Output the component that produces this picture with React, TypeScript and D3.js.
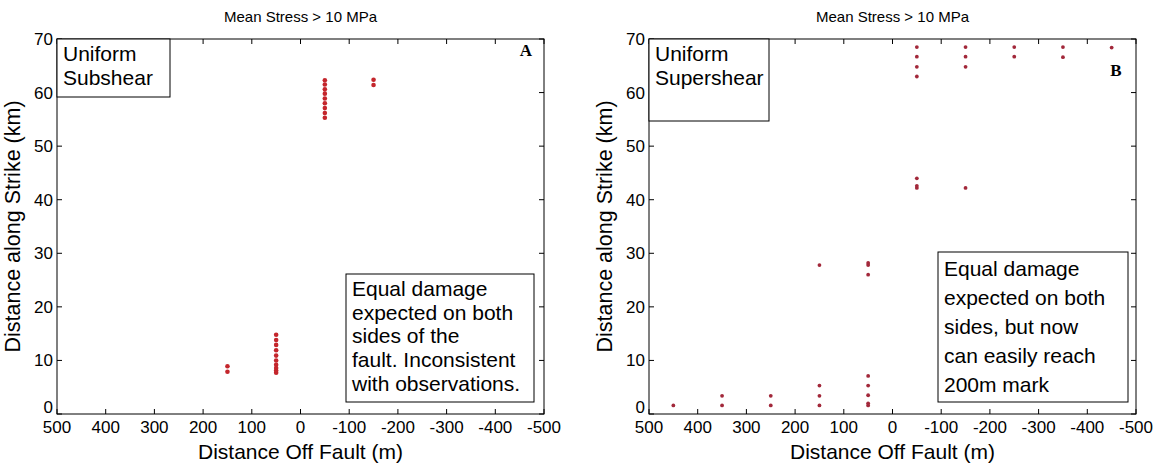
import React from "react";
import * as d3 from "d3";

const W = 1158;
const H = 467;

const titleText = "Mean Stress > 10 MPa";
const xLabelText = "Distance Off Fault (m)";
const yLabelText = "Distance along Strike (km)";

const xTicks = [500, 400, 300, 200, 100, 0, -100, -200, -300, -400, -500];
const yTicks = [0, 10, 20, 30, 40, 50, 60, 70];

// Panel A: Uniform Subshear  [distance off fault (m), distance along strike (km)]
const subshearPoints: [number, number][] = [
  [150, 7.9], [150, 8.9],
  [50, 7.7], [50, 8.1], [50, 8.6], [50, 9.2], [50, 10.0], [50, 10.9], [50, 11.9], [50, 12.9], [50, 13.8], [50, 14.8],
  [-50, 55.3], [-50, 56.2], [-50, 57.1], [-50, 58.0], [-50, 58.9], [-50, 59.8], [-50, 60.6], [-50, 61.5], [-50, 62.3],
  [-150, 61.4], [-150, 62.4],
];

// Panel B: Uniform Supershear
const supershearPoints: [number, number][] = [
  [450, 1.6],
  [350, 1.6], [350, 3.4],
  [250, 1.6], [250, 3.4],
  [150, 1.6], [150, 3.4], [150, 5.3], [150, 27.8],
  [50, 1.6], [50, 2.0], [50, 3.5], [50, 5.3], [50, 7.1], [50, 26.0], [50, 27.8], [50, 28.2],
  [-50, 42.2], [-50, 42.6], [-50, 44.0], [-50, 63.0], [-50, 64.8], [-50, 66.7], [-50, 68.5],
  [-150, 42.2], [-150, 64.8], [-150, 66.7], [-150, 68.5],
  [-250, 66.7], [-250, 68.5],
  [-350, 66.6], [-350, 68.5],
  [-450, 68.4],
];

const panelAInfo = ["Uniform", "Subshear"];
const panelANote = ["Equal damage", "expected on both", "sides of the", "fault. Inconsistent", "with observations."];
const panelBInfo = ["Uniform", "Supershear"];
const panelBNote = ["Equal damage", "expected on both", "sides, but now", "can easily reach", "200m mark"];

const FONT = "'Liberation Sans', Arial, sans-serif";

type PanelProps = {
  x0: number;
  x1: number;
  points: [number, number][];
  color: string;
  r: number;
  letter: string;
  letterPos: [number, number];
  info: string[];
  infoBox: [number, number, number, number];
  note: string[];
  noteBox: [number, number, number, number];
  noteFirst: number;
  noteLh: number;
};

function Panel(p: PanelProps) {
  const y0 = 39;
  const y1 = 414;
  const x = d3.scaleLinear().domain([500, -500]).range([p.x0, p.x1]);
  const y = d3.scaleLinear().domain([0, 70]).range([y1, y0]);
  const tl = 5;
  const cx = (p.x0 + p.x1) / 2;
  return (
    <g>
      <text x={cx} y={22} textAnchor="middle" fontSize={15} fontFamily={FONT}>{titleText}</text>
      {p.points.map((d, i) => (
        <circle key={i} cx={x(d[0])} cy={y(d[1])} r={p.r} fill={p.color} />
      ))}
      <rect x={p.x0} y={y0} width={p.x1 - p.x0} height={y1 - y0} fill="none" stroke="#000" strokeWidth={1} />
      {xTicks.map((t) => (
        <g key={"x" + t}>
          <line x1={x(t)} x2={x(t)} y1={y1} y2={y1 - tl} stroke="#000" />
          <line x1={x(t)} x2={x(t)} y1={y0} y2={y0 + tl} stroke="#000" />
          <text x={x(t)} y={433} textAnchor="middle" fontSize={17} fontFamily={FONT}>{t}</text>
        </g>
      ))}
      {yTicks.map((t) => (
        <g key={"y" + t}>
          <line x1={p.x0} x2={p.x0 + tl} y1={y(t)} y2={y(t)} stroke="#000" />
          <line x1={p.x1} x2={p.x1 - tl} y1={y(t)} y2={y(t)} stroke="#000" />
          <text x={p.x0 - 4} y={y(t) + (t === 0 ? -1 : 6)} textAnchor="end" fontSize={17} fontFamily={FONT}>{t}</text>
        </g>
      ))}
      <text x={cx} y={459} textAnchor="middle" fontSize={21} fontFamily={FONT}>{xLabelText}</text>
      <text transform={`translate(${p.x0 - 37},${(y0 + y1) / 2}) rotate(-90)`} textAnchor="middle" fontSize={21.5} fontFamily={FONT}>{yLabelText}</text>
      <text x={p.letterPos[0]} y={p.letterPos[1]} textAnchor="middle" fontSize={17} fontWeight="bold" fontFamily="'Liberation Serif', 'Times New Roman', serif">{p.letter}</text>
      <rect x={p.infoBox[0]} y={p.infoBox[1]} width={p.infoBox[2]} height={p.infoBox[3]} fill="#fff" stroke="#000" />
      {p.info.map((s, i) => (
        <text key={"i" + i} x={p.infoBox[0] + 6} y={p.infoBox[1] + 22 + i * 24} fontSize={21} fontFamily={FONT}>{s}</text>
      ))}
      <rect x={p.noteBox[0]} y={p.noteBox[1]} width={p.noteBox[2]} height={p.noteBox[3]} fill="#fff" stroke="#000" />
      {p.note.map((s, i) => (
        <text key={"n" + i} x={p.noteBox[0] + 6} y={p.noteFirst + i * p.noteLh} fontSize={21} fontFamily={FONT}>{s}</text>
      ))}
    </g>
  );
}

export default function App() {
  return (
    <svg width={W} height={H} style={{ position: "absolute", left: 0, top: 0, background: "#fff" }}>
      <rect x={0} y={0} width={W} height={H} fill="#fff" />
      <Panel
        x0={57}
        x1={544}
        points={subshearPoints}
        color="#c4262c"
        r={2.3}
        letter="A"
        letterPos={[526, 56]}
        info={panelAInfo}
        infoBox={[57, 39, 113, 58]}
        note={panelANote}
        noteBox={[346, 274, 188, 128]}
        noteFirst={296}
        noteLh={23.7}
      />
      <Panel
        x0={649}
        x1={1136}
        points={supershearPoints}
        color="#a2283a"
        r={1.9}
        letter="B"
        letterPos={[1116, 76]}
        info={panelBInfo}
        infoBox={[649, 39, 120, 82]}
        note={panelBNote}
        noteBox={[938, 252, 190, 150]}
        noteFirst={276}
        noteLh={29}
      />
    </svg>
  );
}
